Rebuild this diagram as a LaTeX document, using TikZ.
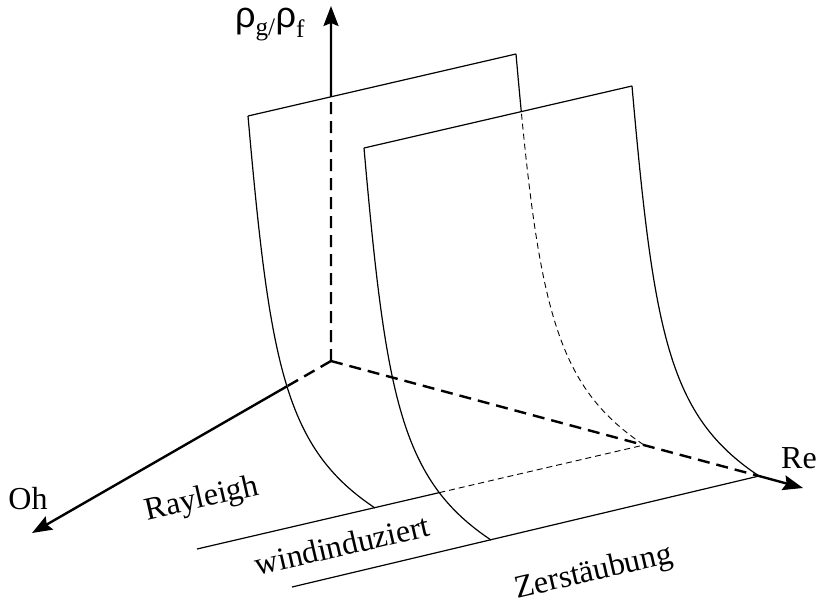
\documentclass[tikz,border=0pt]{standalone}
\usepackage{fontspec}
\setmainfont{Liberation Serif}
\newfontfamily\rhofont{Liberation Sans}
\usetikzlibrary{arrows.meta,intersections}
\begin{document}
\begin{tikzpicture}[x=1pt,y=-1pt,
  axisline/.style={line width=2.4pt},
  axisdash/.style={axisline, dash pattern=on 12pt off 7pt},
  sheet/.style={line width=1.2pt},
  hidden/.style={line width=0.9pt, dash pattern=on 6pt off 4pt},
  lbl/.style={font=\fontsize{32}{36}\selectfont, inner sep=0pt},
  tipped/.style={-{Stealth[length=20pt,width=15pt,inset=3pt]}}
]
\useasboundingbox (0,0) rectangle (820,603);
% key points
\coordinate (O) at (331,361);
\coordinate (Ytip) at (331,6);
\coordinate (Ohtip) at (32,533);
\coordinate (Retip) at (803,488);
\coordinate (S1TL) at (248,116);
\coordinate (S1TR) at (516,54);
\coordinate (S1BL) at (375,508);
\coordinate (S1BR) at (644,445);
\coordinate (S2TL) at (364,148);
\coordinate (S2TR) at (632,86);
\coordinate (S2BL) at (491,540);
\coordinate (S2BR) at (759,476);
\coordinate (F1) at (197,549);
\coordinate (F2) at (292,587);
% helper paths for crossings
\path[name path=s1top] (S1TL) -- (S1TR);
\path[name path=yaxis] (O) -- (Ytip);
\path[name path=ohaxis] (O) -- (Ohtip);
\path[name path=s1left] (S1TL) .. controls +(22,250) and +(-90,-60) .. (S1BL);
\path[name path=s2left] (S2TL) .. controls +(22,250) and +(-90,-60) .. (S2BL);
\path[name path=floor1] (F1) -- (S1BR);
\path[name intersections={of=s1top and yaxis, by=Yc}];
\path[name intersections={of=s1left and ohaxis, by=Oc}];
\path[name intersections={of=s2left and floor1, by=Fc}];
% axes
\draw[axisdash] (O) -- (Yc);
\draw[axisline,tipped] (Yc) -- (Ytip);
\draw[axisdash] (O) -- (Oc);
\draw[axisline,tipped] (Oc) -- (Ohtip);
\draw[axisdash] (O) -- (S2BR);
\draw[axisline,tipped] (S2BR) -- (Retip);
% sheet 1
\draw[sheet] (S1TL) -- (S1TR);
\draw[sheet] (S1TL) .. controls +(22,250) and +(-90,-60) .. (S1BL);
\begin{scope}
  \clip (364,148) -- (632,86) -- (632,0) -- (364,0) -- cycle;
  \draw[sheet] (S1TR) .. controls +(22,250) and +(-90,-60) .. (S1BR);
\end{scope}
\begin{scope}
  \clip (364,148) -- (632,86) -- (820,86) -- (820,603) -- (364,603) -- cycle;
  \draw[hidden] (S1TR) .. controls +(22,250) and +(-90,-60) .. (S1BR);
\end{scope}
% sheet 2
\draw[sheet] (S2TL) -- (S2TR);
\draw[sheet] (S2TL) .. controls +(22,250) and +(-90,-60) .. (S2BL);
\draw[sheet] (S2TR) .. controls +(22,250) and +(-90,-60) .. (S2BR);
% floor lines
\draw[sheet] (F1) -- (Fc);
\draw[hidden] (Fc) -- (S1BR);
\draw[sheet] (F2) -- (S2BR);
% labels
\node[lbl, rotate=13] (ray) at (202,500) {Rayleigh};
\node[lbl, rotate=13] (wind) at (342,545) {windinduziert};
\node[lbl, rotate=13] (zer) at (594,573) {Zerstäubung};
\node[lbl] (oh) at (28,499) {Oh};
\node[lbl] (re) at (799,458) {Re};
\node[lbl, font=\fontsize{36}{40}\selectfont] (rho) at (270,25) {{\rhofont ρ}\textsubscript{g/}{\rhofont ρ}\textsubscript{f}};
\end{tikzpicture}
\end{document}
